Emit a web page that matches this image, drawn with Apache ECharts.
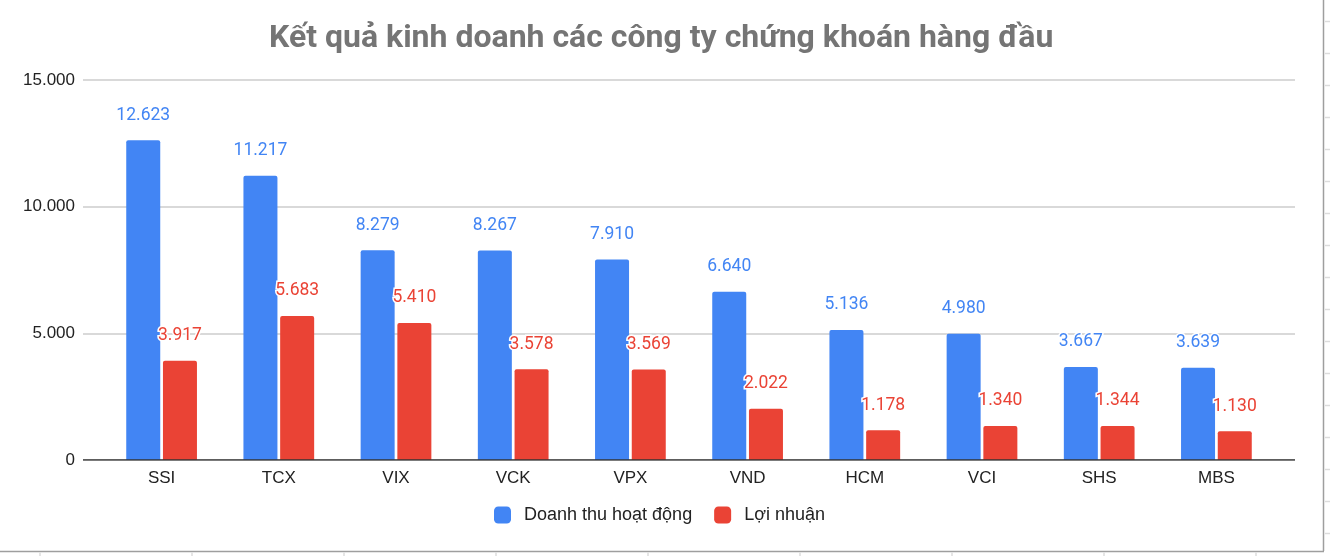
<!DOCTYPE html>
<html>
<head>
<meta charset="utf-8">
<script src="https://cdn.jsdelivr.net/npm/echarts@6/dist/echarts.min.js"></script>
<style>
html,body{margin:0;padding:0;background:#fff;}
#c{width:1330px;height:556px;}
</style>
</head>
<body>
<div id="c"></div>
<script>
const categories = ['SSI','TCX','VIX','VCK','VPX','VND','HCM','VCI','SHS','MBS'];
const revenue = [12623, 11217, 8279, 8267, 7910, 6640, 5136, 4980, 3667, 3639];
const profit = [3917, 5683, 5410, 3578, 3569, 2022, 1178, 1340, 1344, 1130];
const seriesNames = ['Doanh thu hoạt động', 'Lợi nhuận'];
const yTicks = [0, 5000, 10000, 15000];
const titleText = 'Kết quả kinh doanh các công ty chứng khoán hàng đầu';

const BLUE = '#4285F4', RED = '#EA4335';
const fmt = v => String(v).replace(/\B(?=(\d{3})+(?!\d))/g, '.');
const FONT = 'Roboto, Arial, sans-serif';
const AFONT = '"Liberation Sans", Arial, sans-serif';

const chart = echarts.init(document.getElementById('c'), null, {renderer: 'canvas'});

function lbl(color) {
  return {
    show: true, position: 'top', distance: 16,
    color: color, fontSize: 17.5, fontFamily: FONT,
    textBorderColor: '#fff', textBorderWidth: 3,
    formatter: p => fmt(p.value)
  };
}

// decorative spreadsheet edges
const deco = [];
deco.push({type: 'line', shape: {x1: 1323.5, y1: 0, x2: 1323.5, y2: 551}, style: {stroke: '#9e9e9e', lineWidth: 1.5}, silent: true});
deco.push({type: 'line', shape: {x1: 0, y1: 551.5, x2: 1324, y2: 551.5}, style: {stroke: '#9e9e9e', lineWidth: 1.5}, silent: true});
for (let y = 21.5; y < 551; y += 32) {
  deco.push({type: 'line', shape: {x1: 1325, y1: y, x2: 1330, y2: y}, style: {stroke: '#dcdcdc', lineWidth: 1.5}, silent: true});
}
for (let x = 40; x < 1323; x += 152) {
  deco.push({type: 'line', shape: {x1: x, y1: 552.5, x2: x, y2: 556}, style: {stroke: '#dcdcdc', lineWidth: 1.5}, silent: true});
}

chart.setOption({
  backgroundColor: '#fff',
  animation: false,
  title: {
    text: titleText, left: 264, top: 18,
    textStyle: {fontFamily: FONT, fontSize: 32, fontWeight: 'bold', color: '#757575'}
  },
  legend: {
    data: seriesNames, bottom: 27, left: 489,
    itemWidth: 17, itemHeight: 17, itemGap: 22, icon: 'roundRect',
    textStyle: {fontFamily: AFONT, fontSize: 18, color: '#222', padding: [0,0,0,8]}
  },
  grid: [
    {left: 103, right: 55, top: 80, bottom: 96},
    {left: 83, right: 35, top: 80, bottom: 96}
  ],
  xAxis: [
    {type: 'category', data: categories, gridIndex: 0,
     axisLine: {show: false}, axisTick: {show: false},
     axisLabel: {fontFamily: AFONT, fontSize: 17, color: '#222', margin: 10}},
    {type: 'value', gridIndex: 1, min: 0, max: 1, show: false}
  ],
  yAxis: [
    {type: 'value', gridIndex: 0, min: 0, max: 15000, interval: 5000,
     axisLine: {show: false}, axisTick: {show: false}, splitLine: {show: false},
     axisLabel: {show: false}},
    {type: 'value', gridIndex: 1, min: 0, max: 15000, interval: 5000,
     axisLine: {show: false}, axisTick: {show: false},
     splitLine: {show: true, lineStyle: {color: '#cccccc', width: 1.5}},
     axisLabel: {fontFamily: AFONT, fontSize: 17, color: '#222', margin: 8,
       formatter: v => yTicks.includes(v) ? fmt(v) : ''}}
  ],
  series: [
    {name: seriesNames[0], type: 'bar', xAxisIndex: 0, yAxisIndex: 0,
     data: revenue, barWidth: 34, barGap: '8%',
     itemStyle: {color: BLUE, borderRadius: [2,2,0,0]},
     label: lbl(BLUE), z: 3},
    {name: seriesNames[1], type: 'bar', xAxisIndex: 0, yAxisIndex: 0,
     data: profit, barWidth: 34,
     itemStyle: {color: RED, borderRadius: [2,2,0,0]},
     label: lbl(RED), z: 4},
    {type: 'line', xAxisIndex: 1, yAxisIndex: 1, data: [[0,0],[1,0]],
     symbol: 'none', lineStyle: {color: '#333', width: 1.5}, silent: true, z: 5,
     legendHoverLink: false, tooltip: {show: false}}
  ],
  graphic: deco
});
</script>
</body>
</html>
